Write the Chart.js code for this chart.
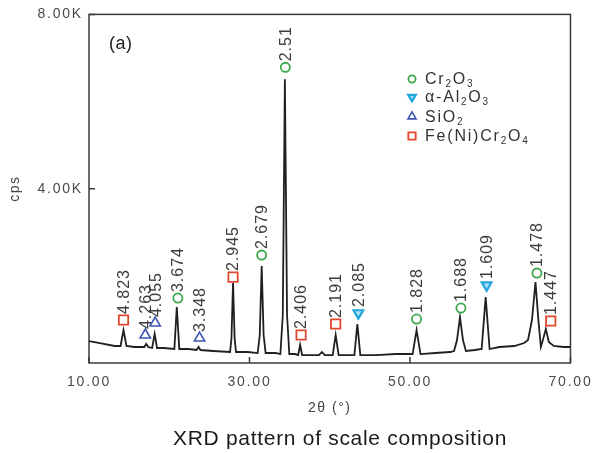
<!DOCTYPE html>
<html><head><meta charset="utf-8">
<script src="https://cdn.jsdelivr.net/npm/chart.js@4.4.1/dist/chart.umd.min.js"></script>
<style>html,body{margin:0;padding:0;background:#fff;}canvas{display:block;}</style>
</head><body>
<canvas id="c" width="599" height="453"></canvas>
<script>
// ---- data ----
const twoTheta = [10.00,11.35,13.20,13.93,14.30,14.67,15.66,16.89,17.13,17.38,17.87,18.18,18.48,19.34,20.64,20.94,21.25,22.42,23.40,23.65,23.89,25.49,27.58,27.75,27.95,28.15,28.32,29.80,31.02,31.28,31.52,31.76,32.01,33.24,33.85,34.15,34.41,34.68,34.96,35.70,36.07,36.31,36.56,37.79,38.65,39.02,39.39,40.37,40.74,41.11,43.07,43.44,43.81,45.78,48.24,50.33,50.82,51.31,53.16,55.00,55.49,55.86,56.23,56.60,56.97,58.07,58.93,59.43,59.92,61.15,63.00,64.22,64.71,65.20,65.64,66.00,66.31,66.56,66.93,67.30,67.91,69.14,70.00];
const intensity = [504,458,390,390,756,390,367,367,436,367,344,665,344,344,321,1284,321,321,298,367,298,275,252,560,1834,560,252,252,229,640,2224,640,229,229,206,1100,6510,1100,206,206,183,413,183,183,183,252,183,183,642,183,183,894,183,183,206,206,756,206,229,252,275,527,1054,527,275,298,321,1513,321,367,390,458,527,986,1857,986,367,527,779,481,390,367,367];

const xTickValues = [10, 30, 50, 70];
const xTickLabels = ['10.00', '30.00', '50.00', '70.00'];
const yTickValues = [4000, 8000];
const yTickLabels = ['4.00K', '8.00K'];

// phase markers: peak position (2θ), marker height (cps), d-spacing label
const cr2o3Pos = [21.07, 31.52, 34.47, 50.82, 56.35, 65.82];
const cr2o3Height = [1490, 2476, 6785, 1009, 1261, 2063];
const cr2o3D = ['3.674', '2.679', '2.51', '1.828', '1.688', '1.478'];

const al2o3Pos = [43.57, 59.55];
const al2o3Height = [1146, 1788];
const al2o3D = ['2.085', '1.609'];

const sio2Pos = [17.01, 18.24, 23.77];
const sio2Height = [642, 917, 573];
const sio2D = ['4.263', '4.055', '3.348'];

const spinelPos = [14.30, 27.95, 36.43, 40.74, 67.54];
const spinelHeight = [986, 1971, 642, 894, 963];
const spinelD = ['4.823', '2.945', '2.406', '2.191', '1.447'];

const phaseNames = ['Cr2O3', 'α-Al2O3', 'SiO2', 'Fe(Ni)Cr2O4'];
const chartTitle = 'XRD pattern of scale composition';
const panelLabel = '(a)';

// ---- styles ----
const FONT = "'Liberation Sans', Arial, sans-serif";
const GREEN = '#3da84a', CYAN = '#1fa6df', BLUE = '#3b58b2', RED = '#e2482f';

const phases = [
  {name: phaseNames[0], pos: cr2o3Pos, h: cr2o3Height, d: cr2o3D, style: 'circle', rot: 0, color: GREEN, fill: '#ffffff', r: 4.6, bw: 1.8},
  {name: phaseNames[1], pos: al2o3Pos, h: al2o3Height, d: al2o3D, style: 'triangle', rot: 180, color: CYAN, fill: 'rgba(31,166,223,0.35)', r: 5.6, bw: 2.2},
  {name: phaseNames[2], pos: sio2Pos, h: sio2Height, d: sio2D, style: 'triangle', rot: 0, color: BLUE, fill: '#ffffff', r: 6, bw: 1.6},
  {name: phaseNames[3], pos: spinelPos, h: spinelHeight, d: spinelD, style: 'rect', rot: 0, color: RED, fill: '#ffffff', r: 6.6, bw: 1.8}
];

const datasets = [{
  label: 'pattern', showLine: true,
  data: twoTheta.map((x, i) => ({x, y: intensity[i]})),
  borderColor: '#202020', borderWidth: 1.8, pointRadius: 0, tension: 0, fill: false, order: 5
}];
phases.forEach(p => datasets.push({
  label: p.name, showLine: false, order: 1,
  data: p.pos.map((x, i) => ({x, y: p.h[i]})),
  pointStyle: p.style, rotation: p.rot, pointRadius: p.r,
  borderColor: p.color, backgroundColor: p.fill, pointBorderWidth: p.bw, borderWidth: p.bw
}));

function drawFormula(ctx, text, x, y, size, spacing) {
  // digits rendered as subscripts
  let cx = x;
  for (const ch of text) {
    const sub = /[0-9]/.test(ch);
    ctx.font = (sub ? Math.round(size * 0.6) : size) + 'px ' + FONT;
    ctx.letterSpacing = spacing + 'px';
    ctx.fillText(ch, cx, sub ? y + size * 0.28 : y);
    cx += ctx.measureText(ch).width + spacing;
  }
}

const decor = {
  id: 'decor',
  beforeDraw(chart) { chart.ctx.letterSpacing = '1.5px'; },
  beforeDatasetsDraw(chart) {
    const {ctx, chartArea: a, scales: {x, y}} = chart;
    ctx.save();
    ctx.letterSpacing = '0px';
    ctx.strokeStyle = '#3a3a3a'; ctx.lineWidth = 1.5;
    ctx.strokeRect(a.left, a.top, a.right - a.left, a.bottom - a.top);
    ctx.beginPath();
    xTickValues.forEach(v => { const p = x.getPixelForValue(v); ctx.moveTo(p, a.bottom); ctx.lineTo(p, a.bottom - 6); });
    yTickValues.forEach(v => { const p = y.getPixelForValue(v); ctx.moveTo(a.left, p); ctx.lineTo(a.left + 6, p); });
    ctx.stroke();
    ctx.restore();
  },
  afterDatasetsDraw(chart) { chart.ctx.letterSpacing = '1.8px'; },
  afterDraw(chart) {
    const {ctx, chartArea: a, scales: {x, y}} = chart;
    ctx.save();
    // peak labels
    ctx.fillStyle = '#3c3c3c';
    ctx.font = '16px ' + FONT;
    ctx.letterSpacing = '1px';
    ctx.textAlign = 'left'; ctx.textBaseline = 'middle';
    phases.forEach(p => {
      p.pos.forEach((v, i) => {
        const px = x.getPixelForValue(v) + 1;
        const py = y.getPixelForValue(p.h[i]) - 6;
        ctx.save();
        ctx.translate(px, py);
        ctx.rotate(-Math.PI / 2);
        ctx.fillText(p.d[i], 0, 0);
        ctx.restore();
      });
    });
    // panel label
    ctx.fillStyle = '#222';
    ctx.font = '18px ' + FONT;
    ctx.letterSpacing = '0.5px';
    ctx.fillText(panelLabel, a.left + 20, 44);
    // legend
    const lx = 412, rows = [79, 97, 116.5, 136];
    phases.forEach((p, i) => {
      const ly = rows[i];
      ctx.save();
      ctx.strokeStyle = p.color; ctx.fillStyle = p.fill; ctx.lineWidth = p.bw;
      Chart.helpers.drawPoint(ctx, {pointStyle: p.style, rotation: p.rot, radius: p.r * 0.78, borderWidth: p.bw}, lx, ly);
      ctx.restore();
      ctx.fillStyle = '#333';
      ctx.textBaseline = 'middle';
      drawFormula(ctx, p.name, lx + 13, ly + 1, 16, 0.9);
    });
    // chart title
    ctx.fillStyle = '#1a1a1a';
    ctx.font = '21px ' + FONT;
    ctx.letterSpacing = '0.7px';
    ctx.textAlign = 'center'; ctx.textBaseline = 'middle';
    ctx.fillText(chartTitle, 340, 439);
    ctx.restore();
  }
};

new Chart(document.getElementById('c'), {
  type: 'scatter',
  data: {datasets},
  plugins: [decor],
  options: {
    responsive: false, animation: false, devicePixelRatio: 1,
    layout: {padding: {left: 0, right: 22, top: 14, bottom: 26.4}},
    plugins: {legend: {display: false}, title: {display: false}, tooltip: {enabled: false}},
    scales: {
      x: {
        type: 'linear', min: 10, max: 70,
        grid: {display: false, drawTicks: false}, border: {display: false},
        afterBuildTicks: s => { s.ticks = xTickValues.map(v => ({value: v})); },
        afterFit: s => { s.height = 63.6; },
        ticks: {z: 1, padding: 11, color: '#4a4a4a', autoSkip: false, maxRotation: 0,
          font: {family: FONT, size: 14},
          callback: v => { const i = xTickValues.indexOf(v); return i < 0 ? '' : xTickLabels[i]; }},
        title: {display: true, text: '2θ (°)', color: '#444', font: {family: FONT, size: 14}, padding: {top: 0, bottom: 10.2}}
      },
      y: {
        type: 'linear', min: 0, max: 8000,
        grid: {display: false, drawTicks: false}, border: {display: false},
        afterBuildTicks: s => { s.ticks = yTickValues.map(v => ({value: v})); },
        afterFit: s => { s.width = 89; },
        ticks: {z: 1, padding: 6, color: '#4a4a4a', autoSkip: false,
          font: {family: FONT, size: 14},
          callback: v => { const i = yTickValues.indexOf(v); return i < 0 ? '' : yTickLabels[i]; }},
        title: {display: true, text: 'cps', color: '#444', font: {family: FONT, size: 14}, padding: {top: 7, bottom: 0}}
      }
    }
  }
});
</script>
</body></html>
